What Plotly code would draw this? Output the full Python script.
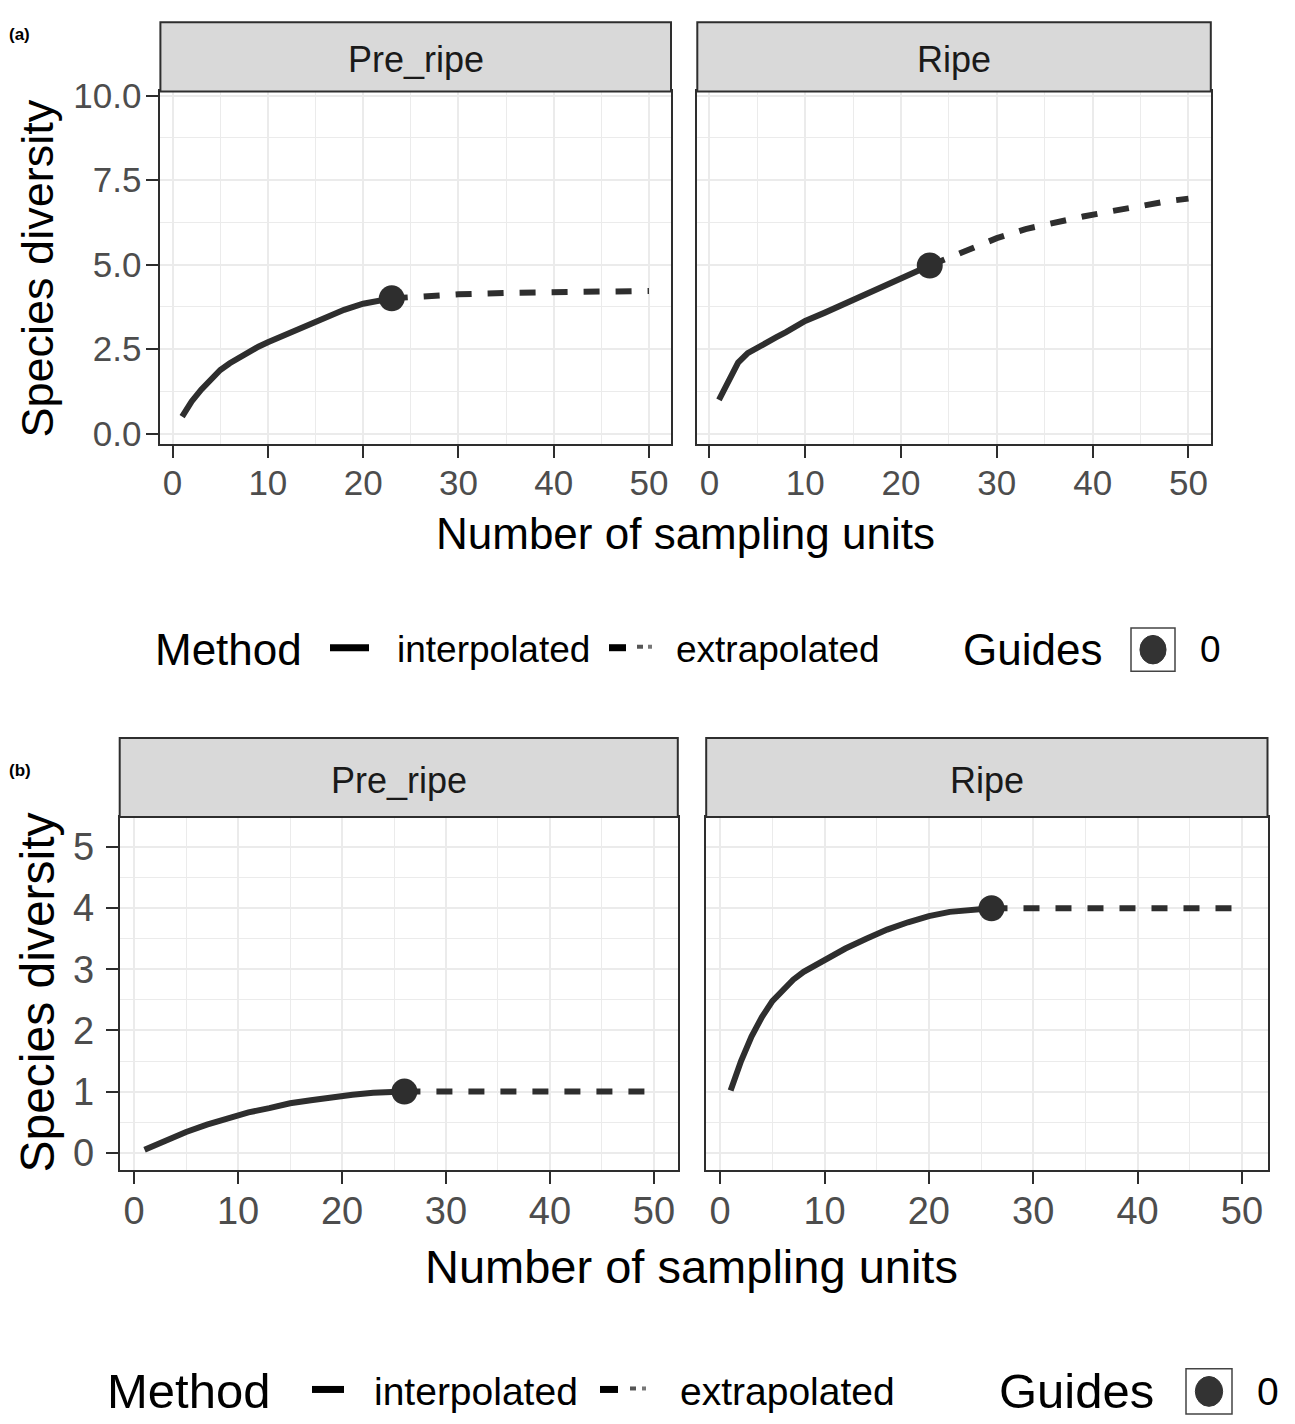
import plotly.graph_objects as go

W, H = 1295, 1424

# ---------------- data ----------------
facets = ["Pre_ripe", "Ripe"]

# figure (a)
a_pre_int_x = [1, 2, 3, 4, 5, 6, 7, 8, 9, 10, 12, 14, 16, 18, 20, 22, 23]
a_pre_int_y = [0.5, 0.95, 1.3, 1.62, 1.88, 2.08, 2.25, 2.42, 2.57, 2.70, 2.95, 3.18, 3.43, 3.66, 3.84, 3.93, 4.0]
a_pre_ext_x = [23, 26, 30, 35, 40, 45, 50]
a_pre_ext_y = [4.0, 4.07, 4.12, 4.16, 4.19, 4.21, 4.22]
a_pre_obs_x = [23]
a_pre_obs_y = [4.0]

a_rip_int_x = [1, 2, 3, 4, 5, 6, 7, 8, 9, 10, 12, 14, 16, 18, 20, 22, 23]
a_rip_int_y = [1.0, 1.6, 2.1, 2.38, 2.55, 2.7, 2.85, 3.0, 3.18, 3.33, 3.57, 3.82, 4.06, 4.3, 4.55, 4.82, 4.97]
a_rip_ext_x = [23, 25, 27, 30, 33, 36, 39, 42, 45, 48, 50]
a_rip_ext_y = [4.97, 5.2, 5.45, 5.78, 6.05, 6.25, 6.42, 6.58, 6.74, 6.88, 6.95]
a_rip_obs_x = [23]
a_rip_obs_y = [4.97]

# figure (b)
b_pre_int_x = [1, 3, 5, 7, 9, 11, 13, 15, 17, 19, 21, 23, 26]
b_pre_int_y = [0.05, 0.2, 0.34, 0.46, 0.57, 0.66, 0.73, 0.81, 0.86, 0.91, 0.95, 0.98, 1.0]
b_pre_ext_x = [26, 30, 35, 40, 45, 50]
b_pre_ext_y = [1.0, 1.0, 1.0, 1.0, 1.0, 1.0]
b_pre_obs_x = [26]
b_pre_obs_y = [1.0]

b_rip_int_x = [1, 2, 3, 4, 5, 6, 7, 8, 10, 12, 14, 16, 18, 20, 22, 24, 26]
b_rip_int_y = [1.02, 1.5, 1.9, 2.22, 2.48, 2.67, 2.83, 2.96, 3.16, 3.34, 3.5, 3.65, 3.77, 3.87, 3.94, 3.98, 4.0]
b_rip_ext_x = [26, 30, 35, 40, 45, 50]
b_rip_ext_y = [4.0, 4.0, 4.0, 4.0, 4.0, 4.0]
b_rip_obs_x = [26]
b_rip_obs_y = [4.0]

x_ticks = [0, 10, 20, 30, 40, 50]
x_minor = [5, 15, 25, 35, 45]
a_y_ticks = [0.0, 2.5, 5.0, 7.5, 10.0]
a_y_ticklabels = ["0.0", "2.5", "5.0", "7.5", "10.0"]
a_y_minor = [1.25, 3.75, 6.25, 8.75]
b_y_ticks = [0, 1, 2, 3, 4, 5]
b_y_ticklabels = ["0", "1", "2", "3", "4", "5"]
b_y_minor = [0.5, 1.5, 2.5, 3.5, 4.5]

method_labels = ["interpolated", "extrapolated"]
guide_label = "0"

# ---------------- styling ----------------
FONT = "Arial, Liberation Sans, sans-serif"
LINE = "#2E2E2E"
GRID = "#EBEBEB"
TICKTXT = "#4D4D4D"


def xp(px):
    return px / W


def yp(py):
    return 1 - py / H


fig = go.Figure()

panels = [
    dict(ax="", xpx=(160.4, 671.0), ypx=(76.8, 435.7), strip_top=6.4,
         xr=[-1.28, 52.31], yr=[-0.31, 10.12], label=facets[0], fig="a",
         ix=a_pre_int_x, iy=a_pre_int_y, ex=a_pre_ext_x, ey=a_pre_ext_y,
         ox=a_pre_obs_x, oy=a_pre_obs_y, left=True),
    dict(ax="2", xpx=(697.3, 1210.8), ypx=(76.8, 435.7), strip_top=6.4,
         xr=[-1.26, 52.33], yr=[-0.31, 10.12], label=facets[1], fig="a",
         ix=a_rip_int_x, iy=a_rip_int_y, ex=a_rip_ext_x, ey=a_rip_ext_y,
         ox=a_rip_obs_x, oy=a_rip_obs_y, left=False),
    dict(ax="3", xpx=(119.7, 677.8), ypx=(815.4, 1174.5), strip_top=734.8,
         xr=[-1.39, 52.3], yr=[-0.28, 5.49], label=facets[0], fig="b",
         ix=b_pre_int_x, iy=b_pre_int_y, ex=b_pre_ext_x, ey=b_pre_ext_y,
         ox=b_pre_obs_x, oy=b_pre_obs_y, left=True),
    dict(ax="4", xpx=(706.2, 1267.5), ypx=(815.4, 1174.5), strip_top=734.8,
         xr=[-1.34, 52.45], yr=[-0.28, 5.49], label=facets[1], fig="b",
         ix=b_rip_int_x, iy=b_rip_int_y, ex=b_rip_ext_x, ey=b_rip_ext_y,
         ox=b_rip_obs_x, oy=b_rip_obs_y, left=False),
]

shapes = []
annotations = []

for p in panels:
    xa = "x" + p["ax"]
    ya = "y" + p["ax"]
    fig.add_trace(go.Scatter(x=p["ix"], y=p["iy"], mode="lines", xaxis=xa, yaxis=ya,
                             line=dict(color=LINE, width=6), showlegend=False,
                             hoverinfo="skip"))
    fig.add_trace(go.Scatter(x=p["ex"], y=p["ey"], mode="lines", xaxis=xa, yaxis=ya,
                             line=dict(color=LINE, width=6, dash="16px,16px"),
                             showlegend=False, hoverinfo="skip"))
    fig.add_trace(go.Scatter(x=p["ox"], y=p["oy"], mode="markers", xaxis=xa, yaxis=ya,
                             marker=dict(color=LINE, size=26), showlegend=False,
                             hoverinfo="skip"))

    tick_size = 35 if p["fig"] == "a" else 38
    if p["fig"] == "a":
        yt, ytl, ym = a_y_ticks, a_y_ticklabels, a_y_minor
        y_standoff = -2
    else:
        yt, ytl, ym = b_y_ticks, b_y_ticklabels, b_y_minor
        y_standoff = 4

    xkey = "xaxis" + p["ax"]
    ykey = "yaxis" + p["ax"]
    fig.update_layout(**{
        xkey: dict(domain=[xp(p["xpx"][0]), xp(p["xpx"][1])], range=p["xr"],
                   anchor=ya, tickvals=x_ticks, ticktext=[str(v) for v in x_ticks],
                   ticks="outside", ticklen=12, tickwidth=2, tickcolor=LINE,
                   ticklabelstandoff=-5,
                   tickfont=dict(size=tick_size, color=TICKTXT, family=FONT),
                   showgrid=True, gridcolor=GRID, gridwidth=2, zeroline=False,
                   showline=True, mirror=True, linecolor=LINE, linewidth=2,
                   minor=dict(tickvals=x_minor, showgrid=True, gridcolor=GRID,
                              gridwidth=1.2, ticks=""),
                   fixedrange=True),
        ykey: dict(domain=[yp(p["ypx"][1]), yp(p["ypx"][0])], range=p["yr"],
                   anchor=xa, tickvals=yt, ticktext=ytl,
                   ticks="outside" if p["left"] else "", ticklen=12, tickwidth=2,
                   tickcolor=LINE, showticklabels=p["left"],
                   ticklabelstandoff=y_standoff,
                   tickfont=dict(size=tick_size, color=TICKTXT, family=FONT),
                   showgrid=True, gridcolor=GRID, gridwidth=2, zeroline=False,
                   showline=True, mirror=True, linecolor=LINE, linewidth=2,
                   minor=dict(tickvals=ym, showgrid=True, gridcolor=GRID,
                              gridwidth=1.2, ticks=""),
                   fixedrange=True),
    })

    shapes.append(dict(type="rect", xref="paper", yref="paper",
                       x0=xp(p["xpx"][0]), x1=xp(p["xpx"][1]),
                       y0=yp(p["ypx"][0]), y1=yp(p["strip_top"]),
                       fillcolor="#D9D9D9", line=dict(color=LINE, width=2),
                       layer="above"))
    annotations.append(dict(xref="paper", yref="paper",
                            x=xp((p["xpx"][0] + p["xpx"][1]) / 2),
                            y=yp((p["ypx"][0] + p["strip_top"]) / 2 + 3),
                            text=p["label"], showarrow=False,
                            font=dict(size=36, color="#1A1A1A", family=FONT),
                            xanchor="center", yanchor="middle"))

annotations += [
    dict(xref="paper", yref="paper", x=xp(685), y=yp(527), text="Number of sampling units",
         showarrow=False, font=dict(size=44, color="black", family=FONT),
         xanchor="center", yanchor="middle"),
    dict(xref="paper", yref="paper", x=xp(37), y=yp(257), text="Species diversity",
         textangle=-90, showarrow=False, font=dict(size=45, color="black", family=FONT),
         xanchor="center", yanchor="middle"),
    dict(xref="paper", yref="paper", x=xp(691), y=yp(1273), text="Number of sampling units",
         showarrow=False, font=dict(size=47, color="black", family=FONT),
         xanchor="center", yanchor="middle"),
    dict(xref="paper", yref="paper", x=xp(38), y=yp(994), text="Species diversity",
         textangle=-90, showarrow=False, font=dict(size=48, color="black", family=FONT),
         xanchor="center", yanchor="middle"),
    dict(xref="paper", yref="paper", x=xp(7), y=yp(19), text="<b>(a)</b>",
         showarrow=False, font=dict(size=17, color="black", family="Liberation Sans"),
         xanchor="left", yanchor="middle"),
    dict(xref="paper", yref="paper", x=xp(7), y=yp(768), text="<b>(b)</b>",
         showarrow=False, font=dict(size=17, color="black", family="Liberation Sans"),
         xanchor="left", yanchor="middle"),
]

legends = [
    dict(yc=645, title_x=153, title_size=44, lab_size=37,
         solid=(330, 369), interp_x=395, dash=(609, 626, 637, 643, 648, 652), extrap_x=674,
         guides_x=961, box=(1131, 1175), zero_x=1198),
    dict(yc=1400, title_x=105, title_size=49, lab_size=39,
         solid=(312, 344), interp_x=372, dash=(600, 618, 630, 636, 642, 646), extrap_x=678,
         guides_x=997, box=(1186, 1232), zero_x=1255),
]
for lg in legends:
    yc = lg["yc"]
    annotations.append(dict(xref="paper", yref="paper", x=xp(lg["title_x"]), y=yp(yc),
                            text="Method", showarrow=False, xanchor="left", yanchor="middle",
                            font=dict(size=lg["title_size"], color="black", family=FONT)))
    annotations.append(dict(xref="paper", yref="paper", x=xp(lg["interp_x"]), y=yp(yc),
                            text=method_labels[0], showarrow=False, xanchor="left",
                            yanchor="middle",
                            font=dict(size=lg["lab_size"], color="black", family=FONT)))
    annotations.append(dict(xref="paper", yref="paper", x=xp(lg["extrap_x"]), y=yp(yc),
                            text=method_labels[1], showarrow=False, xanchor="left",
                            yanchor="middle",
                            font=dict(size=lg["lab_size"], color="black", family=FONT)))
    annotations.append(dict(xref="paper", yref="paper", x=xp(lg["guides_x"]), y=yp(yc),
                            text="Guides", showarrow=False, xanchor="left", yanchor="middle",
                            font=dict(size=lg["title_size"], color="black", family=FONT)))
    annotations.append(dict(xref="paper", yref="paper", x=xp(lg["zero_x"]), y=yp(yc),
                            text=guide_label, showarrow=False, xanchor="left",
                            yanchor="middle",
                            font=dict(size=lg["lab_size"], color="black", family=FONT)))
    s0, s1 = lg["solid"]
    shapes.append(dict(type="line", xref="paper", yref="paper", x0=xp(s0), x1=xp(s1),
                       y0=yp(yc - 2), y1=yp(yc - 2), line=dict(color="black", width=7)))
    d = lg["dash"]
    shapes.append(dict(type="line", xref="paper", yref="paper", x0=xp(d[0]), x1=xp(d[1]),
                       y0=yp(yc - 2), y1=yp(yc - 2), line=dict(color="black", width=7)))
    shapes.append(dict(type="line", xref="paper", yref="paper", x0=xp(d[2]), x1=xp(d[3]),
                       y0=yp(yc - 3), y1=yp(yc - 3), line=dict(color="#555555", width=4)))
    shapes.append(dict(type="line", xref="paper", yref="paper", x0=xp(d[4]), x1=xp(d[5]),
                       y0=yp(yc - 3), y1=yp(yc - 3), line=dict(color="#777777", width=4)))
    b0, b1 = lg["box"]
    half = (b1 - b0) / 2
    shapes.append(dict(type="rect", xref="paper", yref="paper", x0=xp(b0), x1=xp(b1),
                       y0=yp(yc + half), y1=yp(yc - half), fillcolor="white",
                       line=dict(color="#444444", width=1.5)))
    r = half * 0.66
    cx = (b0 + b1) / 2
    shapes.append(dict(type="circle", xref="paper", yref="paper", x0=xp(cx - r * 0.9),
                       x1=xp(cx + r * 0.9), y0=yp(yc + r), y1=yp(yc - r),
                       fillcolor="#333333", line=dict(color="#333333", width=1)))

fig.update_layout(width=W, height=H, margin=dict(l=0, r=0, t=0, b=0),
                  paper_bgcolor="white", plot_bgcolor="white",
                  shapes=shapes, annotations=annotations, showlegend=False,
                  font=dict(family=FONT))

fig.write_html("out.html",
               config={"displayModeBar": False},
               post_script="document.body.style.margin='0px';"
                           "document.body.style.padding='0px';"
                           "document.documentElement.style.overflow='hidden';")
